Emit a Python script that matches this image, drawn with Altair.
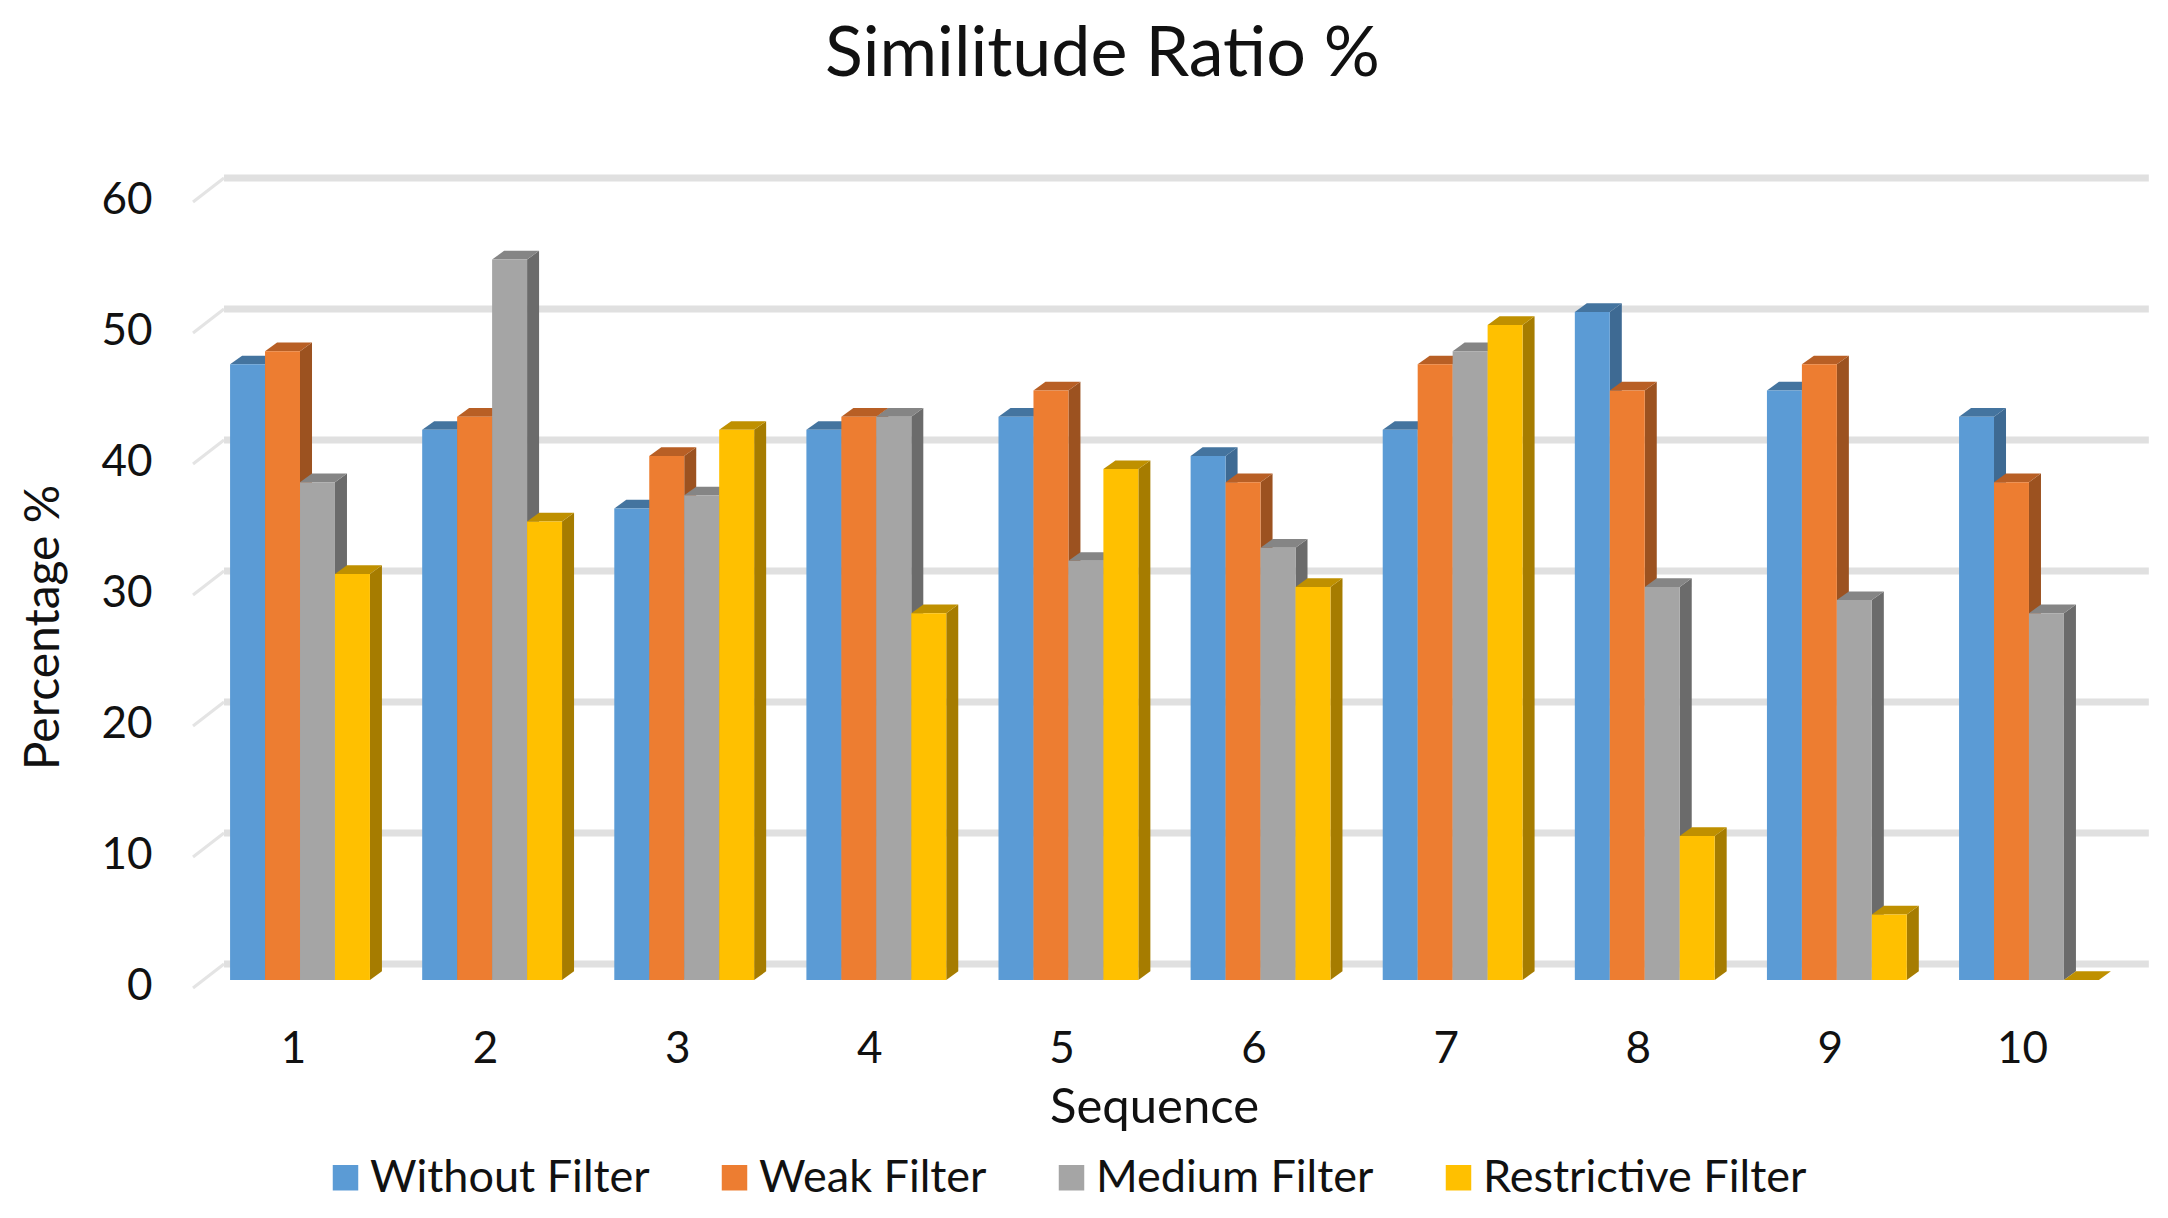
import altair as alt
import pandas as pd

sequences = [1, 2, 3, 4, 5, 6, 7, 8, 9, 10]
series_names = ["Without Filter", "Weak Filter", "Medium Filter", "Restrictive Filter"]
without_filter = [47, 42, 36, 42, 43, 40, 42, 51, 45, 43]
weak_filter = [48, 43, 40, 43, 45, 38, 47, 45, 47, 38]
medium_filter = [38, 55, 37, 43, 32, 33, 48, 30, 29, 28]
restrictive_filter = [31, 35, 42, 28, 39, 30, 50, 11, 5, 0]
tick_values = [0, 10, 20, 30, 40, 50, 60]

series_values = [without_filter, weak_filter, medium_filter, restrictive_filter]
front_colors = ["#5B9BD5", "#ED7D31", "#A5A5A5", "#FFC000"]
top_colors = ["#44749F", "#B85F25", "#858585", "#BF9000"]
side_colors = ["#3E6A93", "#9C5220", "#6B6B6B", "#A67C00"]

FONT = "Lato"
BAR_W = 0.182
FIRST = -0.338
DX = 0.0625
DY = 0.66

x_scale = alt.Scale(domain=[0.469, 10.656], nice=False, zero=False)
y_scale = alt.Scale(domain=[0, 60], nice=False, zero=False)
color_scale = alt.Scale(domain=series_names, range=front_colors)

grid = pd.DataFrame({"v": tick_values})
grid["yb"] = grid.v + 1.22
grid["yf"] = grid.v - 0.61
grid["x0"] = 0.469
grid["x1"] = 0.6304
grid["x2"] = 10.65

layers = []
layers.append(alt.Chart(grid).mark_rule(color="#E0E0E0", strokeWidth=7).encode(
    x=alt.X("x1:Q", scale=x_scale,
            axis=alt.Axis(values=sequences, format="d", title="Sequence", domain=False, ticks=False,
                          grid=False, labelFontSize=44, labelFont=FONT, labelColor="#111111",
                          labelPadding=47, labelFlush=False, labelOverlap=False, labelOffset=-2,
                          titleFontSize=49, titleFont=FONT, titleFontWeight="normal", titleColor="#111111",
                          titleX=961, titleY=103)),
    x2="x2:Q",
    y=alt.Y("yb:Q", scale=y_scale,
            axis=alt.Axis(values=tick_values, format="d", title="Percentage %", domain=False, ticks=False,
                          grid=False, labelFontSize=44, labelFont=FONT, labelColor="#111111",
                          labelPadding=41, labelOverlap=False, labelFlush=False, labelOffset=6,
                          titleFontSize=48, titleFont=FONT, titleFontWeight="normal", titleColor="#111111",
                          titleX=-125, titleY=433)),
))
layers.append(alt.Chart(grid).mark_rule(color="#E4E4E4", strokeWidth=3).encode(
    x=alt.X("x0:Q", scale=x_scale), x2="x1:Q",
    y=alt.Y("yf:Q", scale=y_scale), y2="yb:Q",
))

for i, (name, vals) in enumerate(zip(series_names, series_values)):
    rows_side, rows_top, rows_front = [], [], []
    for n, v in zip(sequences, vals):
        xl = n + FIRST + i * BAR_W
        xr = xl + BAR_W
        rows_side += [
            {"g": n, "x": xr, "y": v, "y2": 0},
            {"g": n, "x": xr + DX, "y": v + DY, "y2": DY},
        ]
        rows_top += [
            {"g": n, "x": xl, "y": v, "y2": v},
            {"g": n, "x": xl + DX, "y": v + DY, "y2": v},
            {"g": n, "x": xr, "y": v + DY, "y2": v},
            {"g": n, "x": xr + DX, "y": v + DY, "y2": v + DY},
        ]
        rows_front.append({"series": name, "x": xl, "x2": xr, "y": v, "y2": 0})
    for rows, col in ((rows_side, side_colors[i]), (rows_top, top_colors[i])):
        layers.append(alt.Chart(pd.DataFrame(rows)).mark_area(fill=col, opacity=1, interpolate="linear", orient="vertical").encode(
            x=alt.X("x:Q", scale=x_scale),
            y=alt.Y("y:Q", scale=y_scale, stack=None),
            y2="y2:Q",
            detail="g:N",
        ))
    layers.append(alt.Chart(pd.DataFrame(rows_front)).mark_rect().encode(
        x=alt.X("x:Q", scale=x_scale),
        x2="x2:Q",
        y=alt.Y("y:Q", scale=y_scale),
        y2="y2:Q",
        color=alt.Color("series:N", scale=color_scale, sort=series_names,
                        legend=alt.Legend(title=None, orient="none", direction="horizontal", columns=4,
                                          legendX=130, legendY=961,
                                          symbolType="square", symbolSize=650, symbolStrokeWidth=0,
                                          labelFont=FONT, labelFontSize=45, labelColor="#111111", labelLimit=500,
                                          columnPadding=62, labelOffset=2, symbolOpacity=1)),
    ))

chart = alt.layer(*layers).properties(
    width=1957,
    height=786,
    autosize=alt.AutoSizeParams(type="none"),
    padding={"left": 185, "top": 186, "right": 2, "bottom": 224},
    background="white",
    title=alt.TitleParams("Similitude Ratio %", font=FONT, fontSize=70, fontWeight="normal", color="#111111",
                          anchor="middle", frame="group", dx=-69, offset=84),
).configure_view(stroke=None)

chart.save("out.html", embed_options={"renderer": "svg", "actions": False})
